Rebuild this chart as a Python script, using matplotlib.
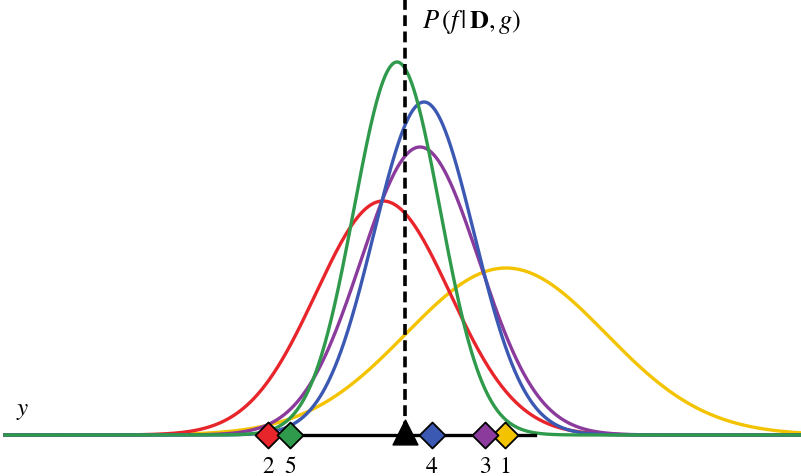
import numpy as np
import matplotlib.pyplot as plt

plt.rcParams['mathtext.fontset'] = 'stix'

# gaussian curves: centre, height, width (x in image units, height above baseline)
names = ['yellow', 'red', 'purple', 'blue', 'green']
colors = ['#f4c300', '#e8252b', '#8a3b9c', '#3b58b3', '#2f9a4b']
centres = [506, 383, 420, 424, 397]
heights = [167, 234, 288, 333, 373]
widths = [100, 67, 59, 50, 43]

# points on the axis
pt_x = [505, 268, 485, 432, 290]
pt_lab = ['1', '2', '3', '4', '5']
mean_x = 405
seg = [268, 535]

base = 436
fig = plt.figure(figsize=(8.01, 4.77), dpi=100)
ax = fig.add_axes([0, 0, 1, 1])
ax.set_xlim(0, 801)
ax.set_ylim(477, 0)
ax.axis('off')

x = np.linspace(5, 801, 1500)
for c, m, h, s in zip(colors, centres, heights, widths):
    ax.plot(x, base - h * np.exp(-(x - m) ** 2 / (2 * s ** 2)), color=c, lw=2.4, zorder=2)

ax.plot(seg, [base, base], color='black', lw=2.4, zorder=3)
ax.plot([mean_x, mean_x], [0, base], color='black', lw=2.6, ls=(0, (3, 1.5)), zorder=4)

for xi, lab, c in zip(pt_x, pt_lab, colors):
    ax.scatter(xi, base, marker='D', s=175, color=c, edgecolor='black', lw=1.3, zorder=5)
    ax.text(xi, 467, lab, ha='center', va='center', fontsize=17,
            family=['STIXGeneral', 'Liberation Serif'], zorder=6)
ax.scatter(mean_x, base - 3, marker='^', s=320, color='black', zorder=6)

ax.text(422, 22, r'$P\,(f\,|\,\mathbf{D},g)$', fontsize=19, ha='left', va='center')
ax.text(16, 410, r'$y$', fontsize=18, ha='left', va='center')

fig.savefig('out.png', dpi=100)
